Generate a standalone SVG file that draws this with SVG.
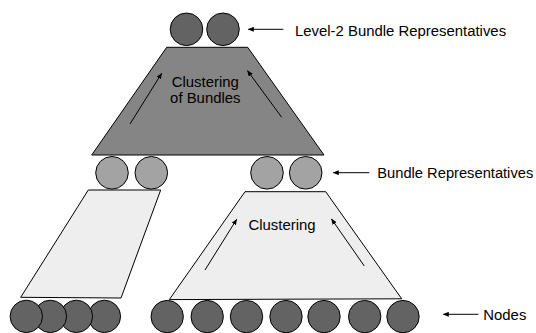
<svg xmlns="http://www.w3.org/2000/svg" width="536" height="333" viewBox="0 0 536 333">
<style>
.dark{fill:#636363;stroke:#000;stroke-width:1}
.mid{fill:#a3a3a3;stroke:#000;stroke-width:1}
.tdark{fill:#858585;stroke:#000;stroke-width:1}
.tlight{fill:#eeeeee;stroke:#000;stroke-width:1}
.lbl{font-family:"Liberation Sans",Arial,sans-serif;font-size:14.9px;fill:#000}
.arr{stroke:#000;stroke-width:1;fill:none;marker-end:url(#ah)}
</style>
<defs>
<marker id="ah" markerWidth="6" markerHeight="5" refX="5.5" refY="2.5" orient="auto" markerUnits="userSpaceOnUse">
<path d="M0,0 L6,2.5 L0,5 Z" fill="#000"/>
</marker>
</defs>
<g id="cluster-bundles">
<polygon class="tdark" points="166.7,47.3 247.7,47.3 324,155 91.7,155"/>
<text class="lbl" x="205.3" y="87.3" text-anchor="middle">Clustering</text>
<text class="lbl" x="205.3" y="102.7" text-anchor="middle">of Bundles</text>
</g>
<g id="cluster-left">
<polygon class="tlight" points="88.3,190 160.7,190 121,298 20.7,297.3"/>
</g>
<g id="cluster-right">
<polygon class="tlight" points="245,191.7 325.7,191.7 401.7,298.8 169.3,299.6"/>
<text class="lbl" x="282" y="230" text-anchor="middle">Clustering</text>
</g>
<g id="level2-reps">
<circle class="dark" cx="186.5" cy="29.3" r="16.3"/>
<circle class="dark" cx="223" cy="29.3" r="16.3"/>
</g>
<g id="bundle-reps">
<circle class="mid" cx="112" cy="172.8" r="16.3"/>
<circle class="mid" cx="151.3" cy="172.8" r="16.3"/>
<circle class="mid" cx="267" cy="172.8" r="16.3"/>
<circle class="mid" cx="305.7" cy="172.8" r="16.3"/>
</g>
<g id="nodes">
<circle class="dark" cx="104.4" cy="316.4" r="16.2"/>
<circle class="dark" cx="76.4" cy="316.4" r="16.2"/>
<circle class="dark" cx="50.4" cy="316.4" r="16.2"/>
<circle class="dark" cx="26.3" cy="316.4" r="16.2"/>
<circle class="dark" cx="167.2" cy="316.6" r="16.2"/>
<circle class="dark" cx="207.2" cy="316.6" r="16.2"/>
<circle class="dark" cx="246.5" cy="316.6" r="16.2"/>
<circle class="dark" cx="286" cy="316.6" r="16.2"/>
<circle class="dark" cx="324" cy="316.6" r="16.2"/>
<circle class="dark" cx="364.7" cy="316.6" r="16.2"/>
<circle class="dark" cx="403" cy="316.6" r="16.2"/>
</g>
<g id="labels">
<text class="lbl" x="295" y="36">Level-2 Bundle Representatives</text>
<text class="lbl" x="377.3" y="177.5" style="font-size:14.7px">Bundle Representatives</text>
<text class="lbl" x="483.3" y="320">Nodes</text>
</g>
<g id="connectors">
<line class="arr" x1="130" y1="124" x2="161.7" y2="73.3"/>
<line class="arr" x1="281.7" y1="117.3" x2="247.5" y2="70.7"/>
<line class="arr" x1="205" y1="270" x2="236.7" y2="219.3"/>
<line class="arr" x1="364.3" y1="266" x2="331.5" y2="219"/>
<line class="arr" x1="283.3" y1="29.3" x2="248.3" y2="29.3"/>
<line class="arr" x1="369.3" y1="172.7" x2="333.3" y2="172.7"/>
<line class="arr" x1="478.3" y1="314.3" x2="443.3" y2="314.3"/>
</g>
</svg>
